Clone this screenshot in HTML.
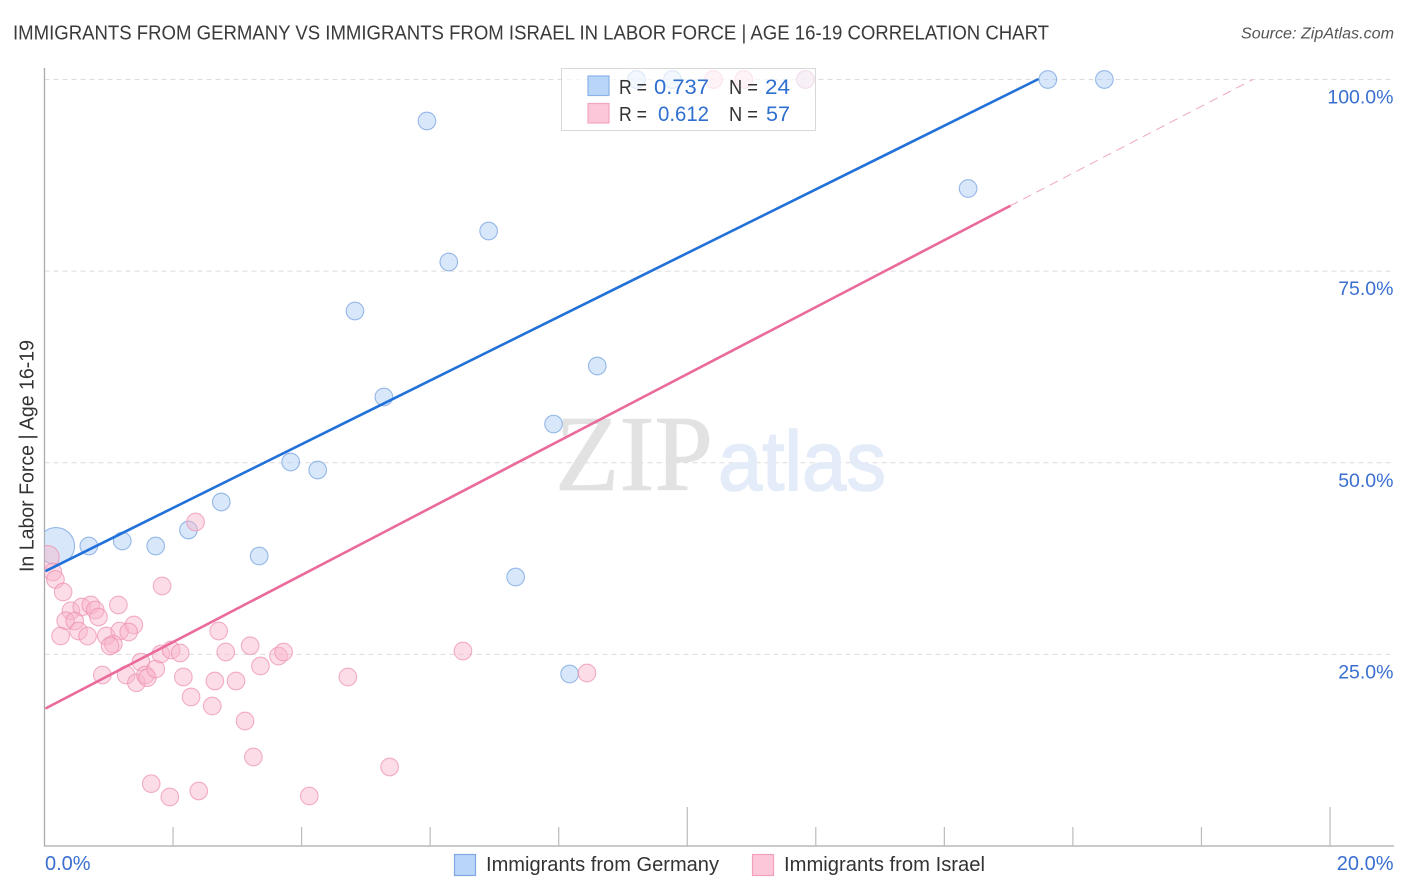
<!DOCTYPE html>
<html lang="en">
<head>
<meta charset="utf-8">
<title>Immigrants from Germany vs Immigrants from Israel in Labor Force | Age 16-19 Correlation Chart</title>
<style>
html,body{margin:0;padding:0;background:#fff;width:1406px;height:892px;overflow:hidden}
svg{display:block}
text{font-family:"Liberation Sans",sans-serif}
</style>
</head>
<body>
<svg id="chart" width="1406" height="892" viewBox="0 0 1406 892" xmlns="http://www.w3.org/2000/svg">
  <defs><clipPath id="plot-clip"><rect x="44.5" y="60" width="1350" height="786"></rect></clipPath></defs>
  <text x="13" y="39.5" font-size="20" fill="#3a3a3a" textLength="1036" lengthAdjust="spacingAndGlyphs">IMMIGRANTS FROM GERMANY VS IMMIGRANTS FROM ISRAEL IN LABOR FORCE | AGE 16-19 CORRELATION CHART</text>
  <text x="1241" y="38.5" font-size="15.5" font-style="italic" fill="#555" textLength="153" lengthAdjust="spacingAndGlyphs">Source: ZipAtlas.com</text>
  <g id="grid"></g>
  <g>
    <text x="555" y="490" font-size="108" fill="#e2e2e2" stroke="#e2e2e2" stroke-width="0.8" textLength="158" lengthAdjust="spacingAndGlyphs" style="font-family:'Liberation Serif',serif">ZIP</text>
    <text x="718" y="490" font-size="84" fill="#e4ecfa" stroke="#e4ecfa" stroke-width="1.6" textLength="168" lengthAdjust="spacingAndGlyphs">atlas</text>
  </g>
  <g id="axes"></g>
  <g id="points" clip-path="url(#plot-clip)"></g>
  <g id="lines"></g>
  <g id="labels"></g>
  <text transform="translate(33.5,572) rotate(-90)" font-size="20" fill="#333" textLength="232" lengthAdjust="spacingAndGlyphs">In Labor Force | Age 16-19</text>

  <g>
    <rect x="561.5" y="68.5" width="254" height="62" fill="#fff" fill-opacity="0.68" stroke="#d8d8d8" stroke-width="1"></rect>
    <rect x="588" y="76" width="21" height="19.5" fill="#b9d5f8" stroke="#8ab4e8" stroke-width="1.2"></rect>
    <rect x="588" y="103.5" width="21" height="19.5" fill="#fcc8d9" stroke="#f3a6c0" stroke-width="1.2"></rect>
    <text x="619" y="94" font-size="20" fill="#333" textLength="28" lengthAdjust="spacingAndGlyphs">R =</text>
    <text x="654" y="94" font-size="21" fill="#2f6fd0" textLength="55" lengthAdjust="spacingAndGlyphs">0.737</text>
    <text x="729" y="94" font-size="20" fill="#333" textLength="29" lengthAdjust="spacingAndGlyphs">N =</text>
    <text x="765" y="94" font-size="21" fill="#2f6fd0" textLength="25" lengthAdjust="spacingAndGlyphs">24</text>
    <text x="619" y="121" font-size="20" fill="#333" textLength="28" lengthAdjust="spacingAndGlyphs">R =</text>
    <text x="658" y="121" font-size="21" fill="#2f6fd0" textLength="51" lengthAdjust="spacingAndGlyphs">0.612</text>
    <text x="729" y="121" font-size="20" fill="#333" textLength="29" lengthAdjust="spacingAndGlyphs">N =</text>
    <text x="766" y="121" font-size="21" fill="#2f6fd0" textLength="24" lengthAdjust="spacingAndGlyphs">57</text>
  </g>

  <g>
    <rect x="454.5" y="854.5" width="21" height="21" fill="#b9d5f8" stroke="#7ea9e0" stroke-width="1.2"></rect>
    <text x="486" y="871" font-size="20" fill="#333" textLength="233" lengthAdjust="spacingAndGlyphs">Immigrants from Germany</text>
    <rect x="752.5" y="854.5" width="21" height="21" fill="#fcc8d9" stroke="#f0a0bc" stroke-width="1.2"></rect>
    <text x="784" y="871" font-size="20" fill="#333" textLength="201" lengthAdjust="spacingAndGlyphs">Immigrants from Israel</text>
  </g>
</svg>
<script>
const germanyX = [0.18,0.69,1.21,1.73,2.24,2.75,3.34,3.83,4.25,4.83,5.28,5.95,6.29,6.91,7.33,7.92,8.17,8.6,9.21,9.77,11.84,14.37,15.61,16.49];
const germanyY = [39.14,39.14,39.79,39.14,41.23,44.88,37.83,50.1,49.05,69.8,58.58,94.59,76.19,80.23,35.09,55.05,22.44,62.62,100,100,100,85.78,100,100];
const germanyWeight = [4.4,1,1,1,1,1,1,1,1,1,1,1,1,1,1,1,1,1,1,1,1,1,1,1];
const israelX = [0.05,0.13,0.17,0.29,0.41,0.58,0.72,0.79,0.84,0.33,0.47,0.53,0.67,0.25,1.15,0.96,1.17,1.39,1.31,1.07,1.02,1.83,2.35,0.9,1.27,1.5,1.43,1.57,1.6,1.73,1.81,1.97,2.11,2.16,2.28,2.65,2.61,2.71,2.82,2.98,3.2,3.36,3.64,3.72,3.12,3.25,1.66,1.95,2.4,4.12,4.72,5.37,6.51,8.44,10.41,10.88,11.84];
const israelY = [37.7,35.75,34.77,33.14,30.7,31.18,31.44,30.79,29.88,29.39,29.35,28.05,27.4,27.4,31.44,27.4,28.05,28.83,27.92,26.35,26.09,33.92,42.27,22.31,22.31,24,21.3,22.31,21.96,23.09,25.05,25.57,25.18,22.05,19.44,21.53,18.26,28.05,25.31,21.53,26.13,23.48,24.79,25.31,16.31,11.61,8.13,6.39,7.18,6.52,22.05,10.31,25.44,22.57,100,100,100];
const israelWeight = [1.7];
const germanyTrendX = [0.03,15.45];
const germanyTrendY = [35.92,100];
const israelTrendX = [0.03,15.02];
const israelTrendY = [18,83.5];
const israelProjectionX = [15.02,18.8];
const israelProjectionY = [83.5,100];
const yTicks = [25,50,75,100];
const yTickLabels = ['25.0%','50.0%','75.0%','100.0%'];
const xTicks = [0,2,4,6,8,10,12,14,16,18,20];
const xMajorTicks = [10,20];
const xTickLabels = ['0.0%','20.0%'];
const xLabelValues = [0,20];

const NS = 'http://www.w3.org/2000/svg';
const xPos = function (v) { return 44.5 + v * 64.275; };
const yPos = function (v) { return 846 - v * 7.665; };
function make(tag, parent, attrs) {
  const el = document.createElementNS(NS, tag);
  for (const k in attrs) el.setAttribute(k, attrs[k]);
  parent.appendChild(el);
  return el;
}
const gridG = document.getElementById('grid');
const axesG = document.getElementById('axes');
const pointsG = document.getElementById('points');
const linesG = document.getElementById('lines');
const labelsG = document.getElementById('labels');

yTicks.forEach(function (t, i) {
  const gl = make('line', gridG, {x1: 44.5, x2: 1394, y1: yPos(t), y2: yPos(t), stroke: '#dcdcdc', 'stroke-width': 1, 'stroke-dasharray': '5 4'});
  
  
  const lb = make('text', labelsG, {x: 1393.5, y: yPos(t) + 24, 'font-size': 19.5, fill: '#3a6fd0', 'text-anchor': 'end'});
  lb.textContent = yTickLabels[i];
  
  
});

const yAxis = make('line', axesG, {x1: 44.5, x2: 44.5, y1: 68, y2: 846, stroke: '#aaa', 'stroke-width': 1.3});


const xAxis = make('line', axesG, {x1: 44, x2: 1394, y1: 846, y2: 846, stroke: '#aaa', 'stroke-width': 1.3});


xTicks.forEach(function (t) {
  if (t === 0) return;
  const top = xMajorTicks.indexOf(t) >= 0 ? 807 : 827;
  const tk = make('line', axesG, {x1: xPos(t), x2: xPos(t), y1: top, y2: 846, stroke: '#bbb', 'stroke-width': 1.2});
  
  
});
xLabelValues.forEach(function (t, i) {
  const isEnd = i === xLabelValues.length - 1;
  const lb = make('text', labelsG, {x: isEnd ? 1393.5 : xPos(t) + 0.5, y: 870, 'font-size': 20, fill: '#3a6fd0', 'text-anchor': isEnd ? 'end' : 'start'});
  lb.textContent = xTickLabels[i];
  
  
});

germanyX.forEach(function (x, i) {
  const c = make('circle', pointsG, {cx: xPos(x), cy: yPos(germanyY[i]), r: 8.8 * Math.sqrt(germanyWeight[i] || 1), fill: '#a9cbf5', 'fill-opacity': 0.45, stroke: '#7ea8e2', 'stroke-opacity': 0.8, 'stroke-width': 1.1});
  
  
});
israelX.forEach(function (x, i) {
  const c = make('circle', pointsG, {cx: xPos(x), cy: yPos(israelY[i]), r: 8.8 * Math.sqrt(israelWeight[i] || 1), fill: '#f9b3ca', 'fill-opacity': 0.45, stroke: '#ec8fb0', 'stroke-opacity': 0.7, 'stroke-width': 1.1});
  
  
});

const blueLine = make('line', linesG, {x1: xPos(germanyTrendX[0]), y1: yPos(germanyTrendY[0]), x2: xPos(germanyTrendX[1]), y2: yPos(germanyTrendY[1]), stroke: '#2171d9', 'stroke-width': 2.6, 'stroke-linecap': 'round'});


const pinkLine = make('line', linesG, {x1: xPos(israelTrendX[0]), y1: yPos(israelTrendY[0]), x2: xPos(israelTrendX[1]), y2: yPos(israelTrendY[1]), stroke: '#e96a9b', 'stroke-width': 2.6, 'stroke-linecap': 'round'});


const pinkDash = make('line', linesG, {x1: xPos(israelProjectionX[0]), y1: yPos(israelProjectionY[0]), x2: xPos(israelProjectionX[1]), y2: yPos(israelProjectionY[1]), stroke: '#eea6bf', 'stroke-width': 1, 'stroke-dasharray': '9 6'});


</script>
</body>
</html>
